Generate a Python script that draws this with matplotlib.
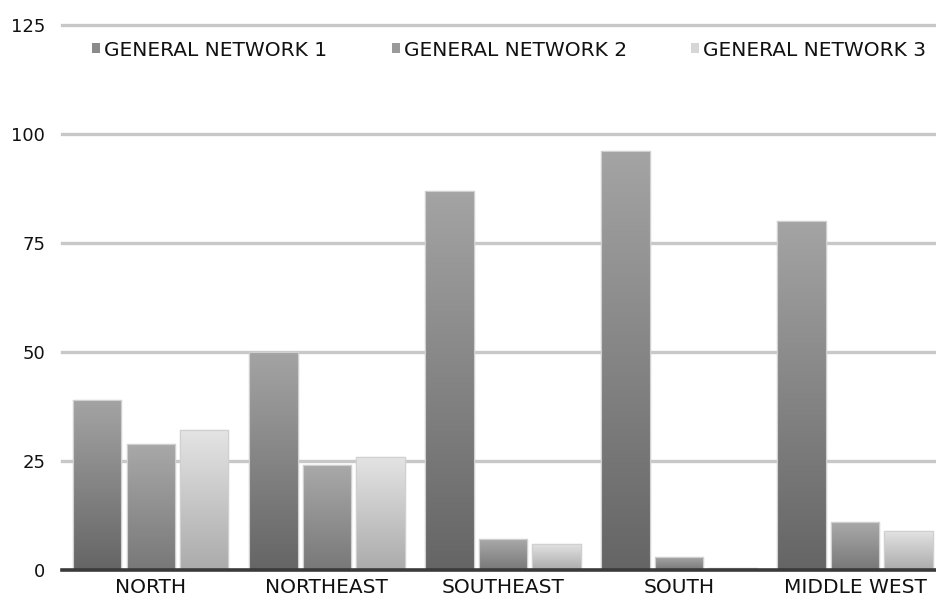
import numpy as np
import matplotlib
matplotlib.use("Agg")
import matplotlib.pyplot as plt
from matplotlib.colors import LinearSegmentedColormap
from matplotlib.patches import Patch

regions = ["NORTH", "NORTHEAST", "SOUTHEAST", "SOUTH", "MIDDLE WEST"]
series = ["GENERAL NETWORK 1", "GENERAL NETWORK 2", "GENERAL NETWORK 3"]
network1 = [39, 50, 87, 96, 80]
network2 = [29, 24, 7, 3, 11]
network3 = [32, 26, 6, 0.5, 9]
y_ticks = [0, 25, 50, 75, 100, 125]

# (top colour, bottom colour) per series
gradients = [("#a4a4a4", "#656565"),
             ("#a9a9a9", "#787878"),
             ("#e4e4e4", "#ababab")]
legend_colors = ["#8a8a8a", "#9a9a9a", "#d6d6d6"]

plt.rcParams['font.family'] = ['DejaVu Sans']

fig = plt.figure(figsize=(9.37, 5.97), dpi=100)
ax = fig.add_axes([62 / 937, 27 / 597, 875 / 937, 545 / 597])

x = np.arange(len(regions))
width = 0.275
step = 0.304

for i, (vals, (top, bottom)) in enumerate(zip([network1, network2, network3], gradients)):
    bars = ax.bar(x + (i - 1) * step, vals, width, color=top,
                  edgecolor="#d4d4d4", linewidth=1.0, zorder=3)
    cmap = LinearSegmentedColormap.from_list("g%d" % i, [bottom, top])
    grad = np.linspace(0, 1, 256).reshape(-1, 1)
    for b in bars:
        x0, y0 = b.get_x(), b.get_y()
        w, h = b.get_width(), b.get_height()
        if h <= 0:
            continue
        im = ax.imshow(grad, cmap=cmap, origin="lower", aspect="auto",
                       extent=[x0, x0 + w, y0, y0 + h], zorder=3.5)
        im.set_clip_path(b)
    # outline over the gradient
    for b in bars:
        ax.add_patch(plt.Rectangle((b.get_x(), b.get_y()), b.get_width(), b.get_height(),
                                   fill=False, edgecolor="#d0d0d0", linewidth=0.8, zorder=4))

ax.set_xlim(-0.504, 4.465)
ax.set_ylim(0, 125)
ax.set_yticks(y_ticks)
ax.set_xticks(x)
ax.set_xticklabels(regions)
ax.tick_params(length=0, labelsize=14.5, colors="#111111")
ax.tick_params(axis="y", pad=12, labelsize=13)
ax.tick_params(axis="x", pad=6)

for v in y_ticks[1:]:
    ax.axhline(v, color="#c8c8c8", linewidth=2.4, zorder=1, clip_on=False)
ax.axhline(0, color="#3a3a3a", linewidth=2.6, zorder=5, clip_on=False)

for s in ax.spines.values():
    s.set_visible(False)

handles = [Patch(facecolor=c, edgecolor="none") for c in legend_colors]
leg = fig.legend(handles, series, loc="center left", bbox_to_anchor=(92 / 937, 1 - 50 / 597),
                 ncol=3, frameon=False, fontsize=14.5, handlelength=0.4, handleheight=0.4,
                 handletextpad=0.2, columnspacing=3.2, borderpad=0, borderaxespad=0)
for t in leg.get_texts():
    t.set_color("#111111")

fig.savefig("out.png", dpi=100)
